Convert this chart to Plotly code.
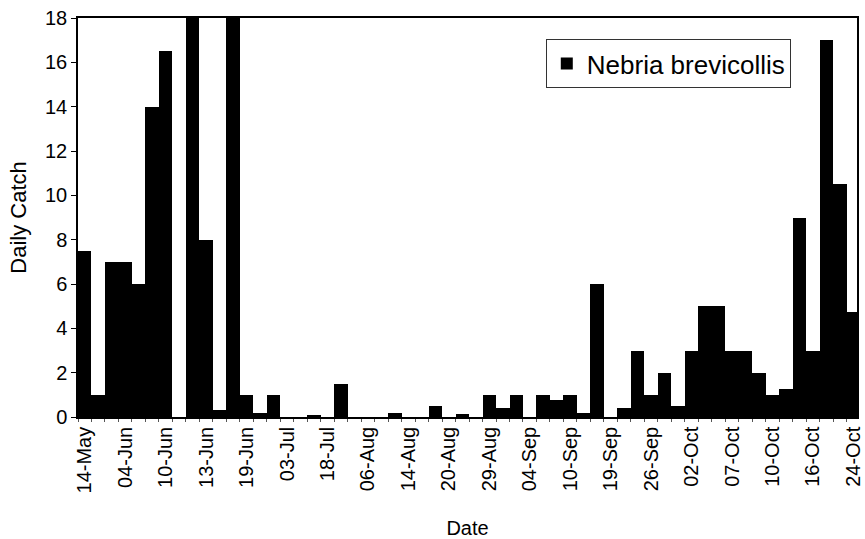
import plotly.graph_objects as go

# Daily catch per sampling date (58 samples)
catch = [7.5, 1, 7, 7, 6, 14, 16.5, 0, 18, 8,
         0.3, 18, 1, 0.2, 1, 0, 0, 0.1, 0, 1.5,
         0, 0, 0, 0.2, 0, 0, 0.5, 0, 0.15, 0,
         1, 0.4, 1, 0, 1, 0.75, 1, 0.2, 6, 0,
         0.4, 3, 1, 2, 0.5, 3, 5, 5, 3, 3,
         2, 1, 1.25, 9, 3, 17, 10.5, 4.75]

# Date labels shown on the axis (every third sample)
date_labels = ["14-May", "04-Jun", "10-Jun", "13-Jun", "19-Jun", "03-Jul", "18-Jul",
               "06-Aug", "14-Aug", "20-Aug", "29-Aug", "04-Sep", "10-Sep", "19-Sep",
               "26-Sep", "02-Oct", "07-Oct", "10-Oct", "16-Oct", "24-Oct"]
label_step = 3

sample_idx = list(range(len(catch)))
label_pos = [i * label_step for i in range(len(date_labels))]

FONT = "Liberation Sans, Arial, sans-serif"

fig = go.Figure()
fig.add_trace(go.Bar(
    x=sample_idx, y=catch, name="Nebria brevicollis",
    marker=dict(color="black", line=dict(width=0)),
    width=1.0,
))

fig.update_layout(
    width=865, height=539,
    margin=dict(l=78, r=1, t=18, b=122),
    paper_bgcolor="white", plot_bgcolor="white",
    font=dict(family=FONT, size=20, color="black"),
    bargap=0,
    showlegend=True,
    legend=dict(
        x=0.6005, y=0.947, xanchor="left", yanchor="top",
        bgcolor="white", bordercolor="#333", borderwidth=1,
        font=dict(family=FONT, size=26, color="black"),
    ),
    xaxis=dict(
        range=[-0.5, 57.27],
        tickmode="array", tickvals=label_pos, ticktext=date_labels,
        tickangle=-90, ticks="", showgrid=False, zeroline=False,
        ticklabeloverflow="allow",
        showline=True, linecolor="black", linewidth=1.5, mirror=True,
        tickfont=dict(family=FONT, size=20, color="black"),
        minor=dict(tickmode="linear", tick0=-0.5, dtick=1, ticks="outside",
                   ticklen=3, tickcolor="#555", showgrid=False),
        title=dict(text="Date", font=dict(family=FONT, size=20), standoff=31),
    ),
    yaxis=dict(
        range=[0, 18], tickmode="linear", tick0=0, dtick=2,
        ticks="outside", ticklen=5, tickcolor="black",
        showgrid=False, zeroline=False,
        showline=True, linecolor="black", linewidth=1.5, mirror=True,
        tickfont=dict(family=FONT, size=20, color="black"),
        title=dict(text="Daily Catch", font=dict(family=FONT, size=22), standoff=12),
    ),
)

fig.write_html("out.html")
